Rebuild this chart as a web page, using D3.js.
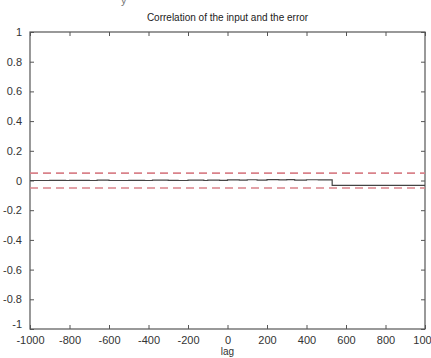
<!DOCTYPE html>
<html><head><meta charset="utf-8">
<script src="https://cdn.jsdelivr.net/npm/d3@7"></script>
<style>body{margin:0;background:#fff;overflow:hidden}svg{display:block}</style>
</head><body>
<script>
const lags   = [-1000,-940,-900,-820,-800,-700,-660,-600,-500,-420,-380,-300,-250,-200,-120,-100,-40,0,60,100,150,200,260,300,340,400,460,529,530,1000];
const values = [0,0,0.001,0,0.001,0,0.002,0,0.001,0,0.002,0.001,0,0.002,0,0.003,0.001,0.004,0.002,0.005,0.003,0.006,0.004,0.006,0.003,0.005,0.004,0.004,-0.033,-0.033];
const bounds = [0.05,-0.05];
const xTicks = [-1000,-800,-600,-400,-200,0,200,400,600,800,1000];
const yTicks = [-1,-0.8,-0.6,-0.4,-0.2,0,0.2,0.4,0.6,0.8,1];
const title = "Correlation of the input and the error";
const xLabel = "lag";

const W=431,H=358, L=30,R=425,T=32,B=329;
const svg=d3.select("body").append("svg").attr("width",W).attr("height",H)
  .style("font-family","'Liberation Sans',Arial,sans-serif");
const x=d3.scaleLinear().domain([-1000,1000]).range([L,R]);
const y=d3.scaleLinear().domain([-1,1]).range([B,T]);
const ax="#555";
svg.append("text").attr("x",121).attr("y",4).attr("font-size",11).attr("fill","#777").text("y");

const fmt=d=>String(d);
// bottom
svg.append("g").attr("transform",`translate(0,${B})`)
  .call(d3.axisBottom(x).tickValues(xTicks).tickFormat(fmt).tickSizeInner(-4).tickSizeOuter(0).tickPadding(7))
  .call(g=>{g.select(".domain").remove();g.selectAll("line").attr("stroke",ax);g.selectAll("text").attr("font-size",11).attr("fill","#333");});
// top
svg.append("g").attr("transform",`translate(0,${T})`)
  .call(d3.axisTop(x).tickValues(xTicks).tickFormat("").tickSizeInner(-4).tickSizeOuter(0))
  .call(g=>{g.select(".domain").remove();g.selectAll("line").attr("stroke",ax);});
// left
svg.append("g").attr("transform",`translate(${L},0)`)
  .call(d3.axisLeft(y).tickValues(yTicks).tickFormat(d=>String(+d.toFixed(1))).tickSizeInner(-4).tickSizeOuter(0).tickPadding(8))
  .call(g=>{g.select(".domain").remove();g.selectAll("line").attr("stroke",ax);g.selectAll("text").attr("font-size",11).attr("fill","#333");
    g.selectAll(".tick").filter(d=>d===-1).select("text").attr("dy","-0.1em");});
// right
svg.append("g").attr("transform",`translate(${R},0)`)
  .call(d3.axisRight(y).tickValues(yTicks).tickFormat("").tickSizeInner(-4).tickSizeOuter(0))
  .call(g=>{g.select(".domain").remove();g.selectAll("line").attr("stroke",ax);});
svg.append("rect").attr("x",L).attr("y",T).attr("width",R-L).attr("height",B-T)
  .attr("fill","none").attr("stroke",ax).attr("stroke-width",1.2);

// bounds
svg.selectAll(".bnd").data(bounds).join("line")
  .attr("x1",x(-1000)).attr("x2",x(1000)).attr("y1",d=>y(d)).attr("y2",d=>y(d))
  .attr("stroke","#d9828a").attr("stroke-width",1.6).attr("stroke-dasharray","8,5");

// series
const pts=lags.map((l,i)=>[l,values[i]]);
svg.append("path").datum(pts)
  .attr("d",d3.line().x(d=>x(d[0])).y(d=>y(d[1])).curve(d3.curveStepAfter))
  .attr("fill","none").attr("stroke","#444").attr("stroke-width",1.2);

svg.append("text").attr("x",(L+R)/2).attr("y",21).attr("text-anchor","middle")
  .attr("font-size",10).attr("fill","#222").text(title);
svg.append("text").attr("x",(L+R)/2).attr("y",355).attr("text-anchor","middle")
  .attr("font-size",10).attr("fill","#333").text(xLabel);
</script>
</body></html>
